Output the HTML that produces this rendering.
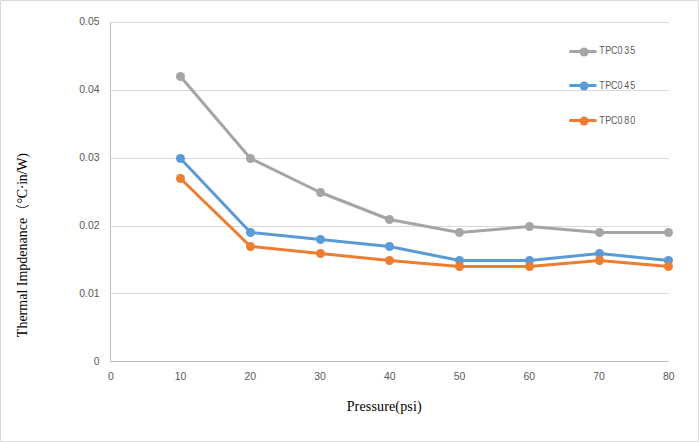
<!DOCTYPE html>
<html><head><meta charset="utf-8"><style>
html,body{margin:0;padding:0;background:#fff;}
svg{display:block;}
.tk{font-family:"Liberation Sans",sans-serif;font-size:11px;fill:#595959;}
.lg{font-family:"Liberation Sans",sans-serif;font-size:10.5px;fill:#595959;}
.ttl{font-family:"Liberation Serif",serif;font-size:14px;fill:#000;}
</style></head><body>
<svg width="699" height="442" viewBox="0 0 699 442">
<rect x="0" y="0" width="699" height="442" fill="#fff"/>
<rect x="1" y="0" width="697" height="1" fill="#d9d9d9"/>
<rect x="1" y="441" width="697" height="1" fill="#d9d9d9"/>
<rect x="0" y="1" width="1" height="440" fill="#d9d9d9"/>
<rect x="698" y="1" width="1" height="440" fill="#d9d9d9"/>
<rect x="0" y="0" width="1" height="1" fill="#ececec"/>
<rect x="698" y="0" width="1" height="1" fill="#ececec"/>
<rect x="0" y="441" width="1" height="1" fill="#ececec"/>
<rect x="698" y="441" width="1" height="1" fill="#ececec"/>
<rect x="111" y="22" width="558" height="1" fill="#d9d9d9"/>
<rect x="111" y="90" width="558" height="1" fill="#d9d9d9"/>
<rect x="111" y="158" width="558" height="1" fill="#d9d9d9"/>
<rect x="111" y="226" width="558" height="1" fill="#d9d9d9"/>
<rect x="111" y="293" width="558" height="1" fill="#d9d9d9"/>
<rect x="110" y="22" width="1" height="340" fill="#bfbfbf"/>
<rect x="110" y="361" width="559" height="1" fill="#bfbfbf"/>
<text transform="translate(99.6,25.10) scale(0.95,1)" text-anchor="end" class="tk">0.05</text>
<text transform="translate(99.6,93.00) scale(0.95,1)" text-anchor="end" class="tk">0.04</text>
<text transform="translate(99.6,160.90) scale(0.95,1)" text-anchor="end" class="tk">0.03</text>
<text transform="translate(99.6,228.80) scale(0.95,1)" text-anchor="end" class="tk">0.02</text>
<text transform="translate(99.6,296.70) scale(0.95,1)" text-anchor="end" class="tk">0.01</text>
<text transform="translate(99.6,364.60) scale(0.95,1)" text-anchor="end" class="tk">0</text>
<text transform="translate(110.85,380) scale(0.95,1)" text-anchor="middle" class="tk">0</text>
<text transform="translate(180.60,380) scale(0.95,1)" text-anchor="middle" class="tk">10</text>
<text transform="translate(250.35,380) scale(0.95,1)" text-anchor="middle" class="tk">20</text>
<text transform="translate(320.10,380) scale(0.95,1)" text-anchor="middle" class="tk">30</text>
<text transform="translate(389.85,380) scale(0.95,1)" text-anchor="middle" class="tk">40</text>
<text transform="translate(459.60,380) scale(0.95,1)" text-anchor="middle" class="tk">50</text>
<text transform="translate(529.35,380) scale(0.95,1)" text-anchor="middle" class="tk">60</text>
<text transform="translate(599.10,380) scale(0.95,1)" text-anchor="middle" class="tk">70</text>
<text transform="translate(668.85,380) scale(0.95,1)" text-anchor="middle" class="tk">80</text>
<polyline points="180.50,76.50 250.50,158.50 320.50,192.50 389.50,219.50 459.50,232.50 529.50,226.50 599.50,232.50 668.50,232.50" fill="none" stroke="#a5a5a5" stroke-width="3.0" stroke-linejoin="round" stroke-linecap="round"/>
<circle cx="180.50" cy="76.50" r="4.5" fill="#a5a5a5"/>
<circle cx="250.50" cy="158.50" r="4.5" fill="#a5a5a5"/>
<circle cx="320.50" cy="192.50" r="4.5" fill="#a5a5a5"/>
<circle cx="389.50" cy="219.50" r="4.5" fill="#a5a5a5"/>
<circle cx="459.50" cy="232.50" r="4.5" fill="#a5a5a5"/>
<circle cx="529.50" cy="226.50" r="4.5" fill="#a5a5a5"/>
<circle cx="599.50" cy="232.50" r="4.5" fill="#a5a5a5"/>
<circle cx="668.50" cy="232.50" r="4.5" fill="#a5a5a5"/>
<polyline points="180.50,158.50 250.50,232.50 320.50,239.50 389.50,246.50 459.50,260.50 529.50,260.50 599.50,253.50 668.50,260.50" fill="none" stroke="#5b9bd5" stroke-width="3.0" stroke-linejoin="round" stroke-linecap="round"/>
<circle cx="180.50" cy="158.50" r="4.5" fill="#5b9bd5"/>
<circle cx="250.50" cy="232.50" r="4.5" fill="#5b9bd5"/>
<circle cx="320.50" cy="239.50" r="4.5" fill="#5b9bd5"/>
<circle cx="389.50" cy="246.50" r="4.5" fill="#5b9bd5"/>
<circle cx="459.50" cy="260.50" r="4.5" fill="#5b9bd5"/>
<circle cx="529.50" cy="260.50" r="4.5" fill="#5b9bd5"/>
<circle cx="599.50" cy="253.50" r="4.5" fill="#5b9bd5"/>
<circle cx="668.50" cy="260.50" r="4.5" fill="#5b9bd5"/>
<polyline points="180.50,178.50 250.50,246.50 320.50,253.50 389.50,260.50 459.50,266.50 529.50,266.50 599.50,260.50 668.50,266.50" fill="none" stroke="#ed7d31" stroke-width="3.0" stroke-linejoin="round" stroke-linecap="round"/>
<circle cx="180.50" cy="178.50" r="4.5" fill="#ed7d31"/>
<circle cx="250.50" cy="246.50" r="4.5" fill="#ed7d31"/>
<circle cx="320.50" cy="253.50" r="4.5" fill="#ed7d31"/>
<circle cx="389.50" cy="260.50" r="4.5" fill="#ed7d31"/>
<circle cx="459.50" cy="266.50" r="4.5" fill="#ed7d31"/>
<circle cx="529.50" cy="266.50" r="4.5" fill="#ed7d31"/>
<circle cx="599.50" cy="260.50" r="4.5" fill="#ed7d31"/>
<circle cx="668.50" cy="266.50" r="4.5" fill="#ed7d31"/>
<line x1="570.5" y1="51.5" x2="595.3" y2="51.5" stroke="#a5a5a5" stroke-width="3.0" stroke-linecap="round"/>
<circle cx="584.1" cy="52.0" r="4.5" fill="#a5a5a5"/>
<text transform="scale(0.85,1)" x="705.03 711.99 718.85 726.37 734.46 741.50" y="53.9" class="lg">TPC035</text>
<line x1="570.5" y1="85.5" x2="595.3" y2="85.5" stroke="#5b9bd5" stroke-width="3.0" stroke-linecap="round"/>
<circle cx="584.1" cy="86.0" r="4.5" fill="#5b9bd5"/>
<text transform="scale(0.85,1)" x="705.03 711.99 718.85 726.37 734.47 741.50" y="88.75" class="lg">TPC045</text>
<line x1="570.5" y1="120.5" x2="595.3" y2="120.5" stroke="#ed7d31" stroke-width="3.0" stroke-linecap="round"/>
<circle cx="584.1" cy="121.0" r="4.5" fill="#ed7d31"/>
<text transform="scale(0.85,1)" x="705.03 711.99 718.85 726.37 734.43 741.49" y="123.75" class="lg">TPC080</text>
<text x="346.7" y="411.1" class="ttl" letter-spacing="0.15">Pressure(psi)</text>
<text transform="translate(27.1,337.15) rotate(-90)" class="ttl">Thermal Impdenance</text>
<path d="M15.9,205.2 Q22.5,210 29,205.2" fill="none" stroke="#111" stroke-width="0.9"/>
<text transform="translate(27.1,203.57) rotate(-90)" class="ttl" letter-spacing="-0.27">°C·in/W)</text>
</svg>
</body></html>
